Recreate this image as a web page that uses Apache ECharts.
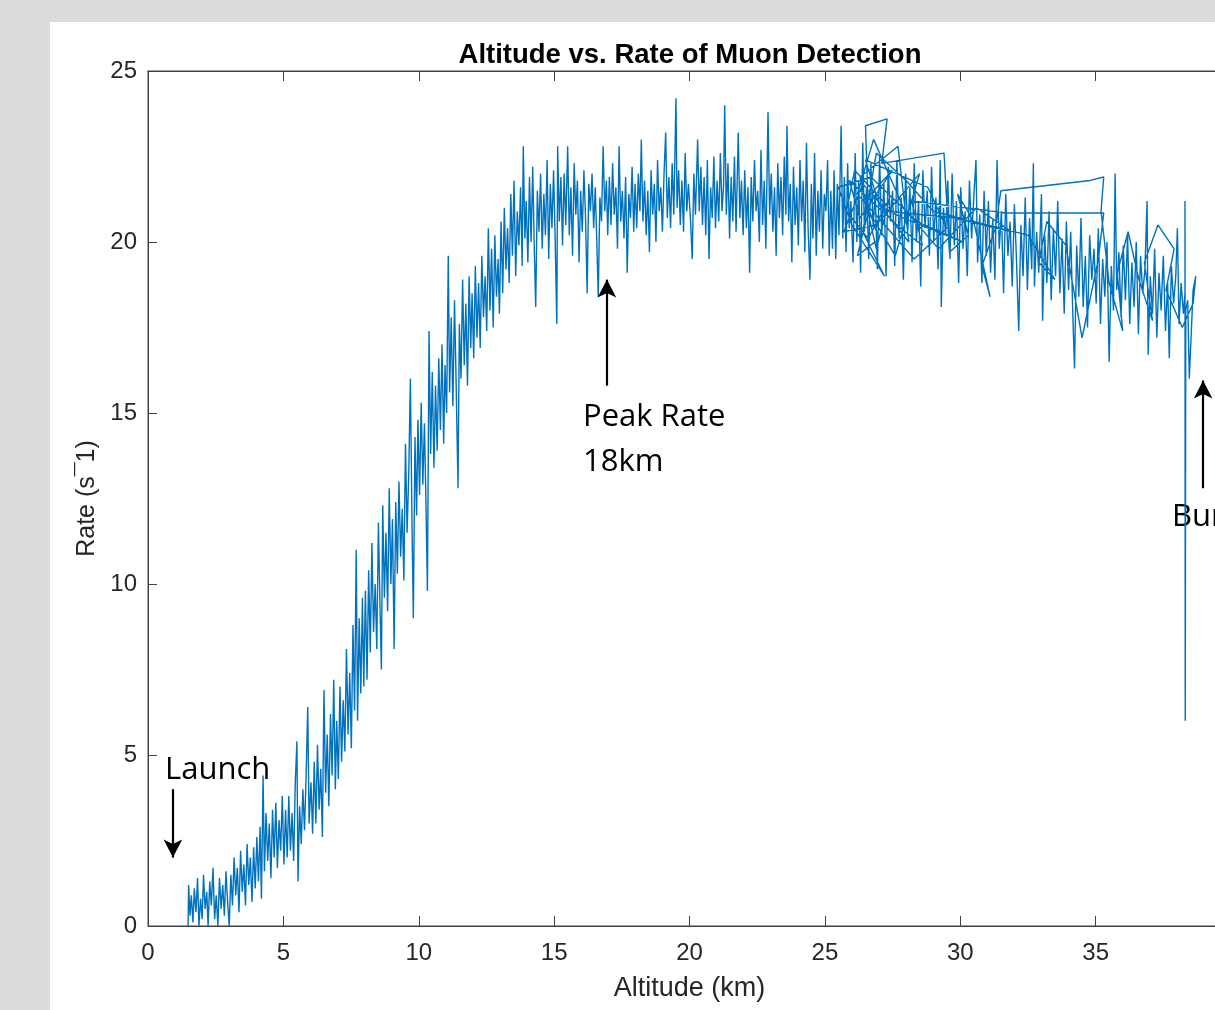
<!DOCTYPE html>
<html>
<head>
<meta charset="utf-8">
<script src="https://cdn.jsdelivr.net/npm/echarts@6/dist/echarts.min.js"></script>
<style>
html,body{margin:0;padding:0;width:1215px;height:1010px;overflow:hidden;background:#dcdcdc;}
#panel{position:absolute;left:50px;top:22px;width:1165px;height:988px;background:#ffffff;}
#chart{position:absolute;left:0;top:0;width:1260px;height:1010px;}
</style>
</head>
<body>
<div id="panel"></div>
<div id="chart"></div>
<script>
// ---- Data (altitude km, rate s^-1) ----
const xTicks = [0, 5, 10, 15, 20, 25, 30, 35, 40];
const yTicks = [0, 5, 10, 15, 20, 25];

const ascentLow = [
[1.48,0.0],[1.50,1.2],[1.55,0.3],[1.60,0.9],[1.66,0.1],[1.71,1.1],[1.77,0.4],[1.83,1.4],[1.88,0.0],[1.94,0.8],[2.00,0.2],
[2.05,1.5],[2.11,0.5],[2.17,1.0],[2.22,0.0],[2.28,1.3],[2.34,0.6],[2.40,1.7],[2.46,0.2],[2.52,0.9],[2.58,0.0],[2.64,1.4],
[2.70,0.5],[2.76,1.2],[2.82,0.3],[2.88,1.6],[2.94,0.7],[3.00,0.0],
[3.06,1.5],[3.12,0.6],[3.18,2.0],[3.24,0.9],[3.30,1.7],[3.36,0.4],[3.42,2.2],[3.48,1.0],[3.54,1.8],[3.60,0.6],[3.66,2.4],[3.72,1.2],[3.78,2.0],[3.84,0.7],[3.90,2.3],[3.96,1.1],
[4.02,2.6],[4.08,1.3],[4.14,2.9],[4.19,0.8],[4.25,4.4],[4.30,1.6],[4.36,3.3],[4.42,1.9],[4.48,3.0],[4.54,1.4],[4.60,3.4],[4.66,2.0],[4.72,3.6],[4.78,1.7],[4.84,3.1],[4.90,2.2],[4.96,3.8],
[5.02,1.8],[5.08,3.4],[5.14,2.0],[5.20,3.8],[5.26,2.2],[5.32,3.3],[5.38,1.9],[5.44,4.2],[5.50,5.4],[5.54,1.3],[5.60,3.5],[5.66,2.4],[5.72,4.0],[5.78,2.8],[5.84,4.4],[5.90,6.4],[5.95,3.0],
[6.02,4.2],[6.08,2.7],[6.14,4.8],[6.20,3.0],[6.26,5.3],[6.32,3.4],[6.38,4.6],[6.44,2.6],[6.50,6.9],[6.56,3.9],[6.62,5.6],[6.68,3.5],[6.74,6.2],[6.80,4.4],[6.86,7.2],[6.92,4.0],[6.97,6.0],
[7.03,4.3],[7.09,7.0],[7.15,4.8],[7.21,6.6],[7.27,5.1],[7.33,8.1],[7.39,5.6],[7.45,7.4],[7.51,5.2],[7.57,8.8],[7.63,6.3],[7.69,11.0],[7.74,6.0],[7.80,9.0],[7.86,6.8],[7.92,9.6],[7.97,7.0],
[8.03,9.8],[8.09,7.2],[8.15,10.4],[8.21,8.0],[8.27,11.2],[8.33,8.6],[8.39,10.0],[8.45,8.1],[8.51,11.8],[8.57,9.3],[8.62,7.5],[8.67,12.3],[8.73,9.6],[8.79,11.5],[8.85,9.2],[8.91,12.8],[8.97,10.0],
[9.03,11.9],[9.09,8.1],[9.15,12.4],[9.21,10.3],[9.27,13.0],[9.33,10.8],[9.39,12.2],[9.45,10.1],[9.51,14.1],[9.57,11.5],[9.63,13.2],[9.69,16.0],[9.75,11.8],[9.80,9.0],[9.86,14.3],[9.92,12.0],[9.97,14.8],
[10.03,12.6],[10.09,15.3],[10.15,12.9],[10.21,14.7],[10.27,12.2],[10.32,9.8],[10.38,17.4],[10.44,13.8],[10.50,16.2],[10.56,13.4],[10.62,15.8],[10.68,13.9],[10.74,16.6],[10.80,14.5],[10.86,17.0],[10.92,14.1],[10.97,16.4],
[11.03,15.0],[11.09,19.6],[11.14,15.6],[11.20,17.8],[11.26,15.2],[11.32,18.3],[11.38,15.9],[11.45,12.8],[11.50,17.6],[11.56,16.0],[11.62,18.9],[11.68,16.4],[11.74,18.2],[11.80,15.8],[11.86,19.0],[11.92,16.9],[11.97,18.5],
[12.03,16.6],[12.09,19.3],[12.15,17.2],[12.21,18.8],[12.27,16.9],[12.33,19.6],[12.39,17.8],[12.45,19.0],[12.51,17.4],[12.57,20.4],[12.63,18.0],[12.69,19.8],[12.75,17.5],[12.81,20.2],[12.87,18.4],[12.93,19.5],[12.98,17.9]
];

const ascentPlateau = [
[13.04,20.6],[13.10,18.5],[13.16,21.0],[13.22,19.2],[13.28,20.4],[13.34,18.8],[13.40,21.4],[13.46,19.6],[13.52,21.8],[13.58,19.0],[13.64,20.9],[13.70,19.9],[13.76,21.6],[13.82,19.3],[13.86,22.8],[13.92,20.1],[13.97,21.2],
[14.03,19.4],[14.09,21.9],[14.15,20.0],[14.21,22.2],[14.27,19.7],[14.32,18.1],[14.38,21.5],[14.44,20.3],[14.50,22.0],[14.56,19.8],[14.62,21.4],[14.68,20.2],[14.74,22.4],[14.80,19.5],[14.86,21.7],[14.92,20.4],[14.98,22.1],
[15.04,20.0],[15.10,17.6],[15.13,22.8],[15.19,20.6],[15.25,21.9],[15.31,19.9],[15.37,22.0],[15.43,20.5],[15.50,22.8],[15.56,20.2],[15.62,21.6],[15.68,19.6],[15.74,22.3],[15.80,20.8],[15.86,21.8],[15.92,19.4],[15.98,21.5],
[16.04,20.3],[16.10,22.1],[16.16,20.7],[16.22,18.5],[16.28,21.7],[16.34,20.9],[16.40,22.0],[16.46,20.4],[16.52,21.6],[16.58,19.9],[16.63,18.4],[16.69,21.3],[16.75,20.6],[16.81,22.8],[16.87,20.9],[16.93,21.8],[16.98,20.2],
[17.04,21.9],[17.10,20.5],[17.16,22.3],[17.22,20.8],[17.28,21.6],[17.34,19.8],[17.40,22.8],[17.46,20.6],[17.52,21.5],[17.58,20.1],[17.64,21.9],[17.70,19.1],[17.76,21.4],[17.82,20.7],[17.88,22.2],[17.94,20.3],[17.99,21.7],
[18.05,20.4],[18.11,22.0],[18.17,20.9],[18.22,23.0],[18.28,20.6],[18.34,21.8],[18.40,20.2],[18.46,21.5],[18.52,19.7],[18.58,22.1],[18.64,20.8],[18.70,21.7],[18.76,20.0],[18.82,22.4],[18.88,20.9],[18.94,21.6],[19.00,20.3],
[19.06,22.0],[19.12,23.2],[19.18,20.7],[19.24,21.9],[19.30,20.4],[19.36,22.3],[19.42,20.8],[19.50,24.2],[19.54,21.0],[19.60,22.1],[19.66,20.5],[19.72,21.8],[19.78,20.3],[19.84,22.6],[19.90,20.9],[19.96,21.7],
[20.04,20.6],[20.10,19.5],[20.16,22.0],[20.22,20.8],[20.30,23.0],[20.36,20.9],[20.42,22.2],[20.48,20.5],[20.54,21.9],[20.60,20.2],[20.66,22.4],[20.72,19.5],[20.78,21.6],[20.84,20.7],[20.90,22.5],[20.96,20.4],
[21.02,21.8],[21.08,20.6],[21.14,22.6],[21.20,20.9],[21.26,21.7],[21.30,24.0],[21.36,20.8],[21.42,22.3],[21.48,20.1],[21.54,21.9],[21.60,20.6],[21.66,22.5],[21.72,20.3],[21.80,23.2],[21.86,20.7],[21.92,21.8],[21.98,20.2],
[22.04,22.1],[22.10,20.4],[22.16,21.6],[22.22,19.1],[22.28,21.9],[22.34,20.6],[22.40,22.4],[22.46,20.9],[22.52,21.5],[22.58,20.0],[22.64,22.7],[22.70,20.5],[22.76,21.8],[22.82,19.8],[22.90,23.8],[22.96,20.8],
[23.02,22.0],[23.08,20.3],[23.14,21.6],[23.20,19.6],[23.26,22.3],[23.32,20.7],[23.38,21.9],[23.44,20.2],[23.50,22.5],[23.56,20.8],[23.60,23.4],[23.66,20.6],[23.72,21.7],[23.78,19.4],[23.84,22.2],[23.90,20.5],[23.96,21.6],
[24.02,19.9],[24.08,22.4],[24.14,20.6],[24.20,21.8],[24.26,19.7],[24.32,22.9],[24.38,20.4],[24.45,18.9],[24.50,21.7],[24.56,20.1],[24.62,22.6],[24.68,19.6],[24.74,21.5],[24.80,20.3],[24.86,22.1],[24.92,19.8],[24.98,21.4]
];

const ascentHigh = [
[25.04,20.9],[25.10,22.4],[25.16,19.6],[25.22,21.5],[25.28,19.8],[25.34,22.1],[25.40,19.5],[25.46,21.7],[25.52,20.2],[25.60,23.4],[25.66,20.1],[25.72,21.9],[25.78,19.7],[25.84,22.3],[25.90,20.4],[25.96,21.2],
[26.04,19.4],[26.12,22.6],[26.18,20.0],[26.25,21.8],[26.32,19.1],[26.40,22.9],[26.46,20.3],[26.54,21.6],[26.62,19.5],[26.70,22.3],[26.78,20.5],[26.86,21.4],[26.94,19.2],
[27.02,22.5],[27.10,20.2],[27.18,21.7],[27.26,19.0],[27.34,22.2],[27.42,20.6],[27.50,21.5],[27.58,19.3],[27.66,22.4],[27.74,20.1],[27.82,21.3],[27.90,18.9],[27.98,22.0],
[28.06,20.3],[28.14,21.6],[28.22,19.4],[28.30,22.3],[28.38,20.0],[28.46,21.2],[28.54,18.7],[28.62,22.1],[28.70,20.4],[28.78,21.5],[28.86,19.6],[28.94,22.2],
[29.02,20.0],[29.10,21.3],[29.18,19.2],[29.26,22.4],[29.30,18.1],[29.38,21.0],[29.46,20.2],[29.54,21.8],[29.62,19.5],[29.70,22.0],[29.78,19.9],[29.86,21.2],[29.94,18.8],
[30.02,21.6],[30.10,19.8],[30.18,20.9],[30.26,19.0],[30.34,21.8],[30.42,20.1],[30.50,21.3],[30.58,22.4],[30.64,19.4],[30.72,20.8],[30.80,18.8],[30.88,21.5],[30.96,19.6],
[31.04,21.2],[31.12,19.1],[31.20,20.7],[31.28,18.9],[31.36,22.4],[31.44,19.8],[31.52,20.9],[31.60,18.5],[31.68,21.4],[31.76,19.6],[31.84,20.6],[31.92,18.7],
[32.00,21.1],[32.08,19.4],[32.16,17.4],[32.24,20.5],[32.32,19.0],[32.40,21.3],[32.48,18.6],[32.56,20.7],[32.64,19.2],[32.70,22.3],[32.74,18.7],[32.82,20.3],[32.90,19.1],[33.00,21.4],[33.04,17.7],
[33.12,20.2],[33.20,18.8],[33.28,20.9],[33.36,18.3],[33.44,20.4],[33.52,19.0],[33.60,21.2],[33.68,18.5],[33.76,20.1],[33.84,17.9],[33.92,20.6],
[34.00,18.6],[34.08,20.3],[34.16,17.8],[34.22,16.3],[34.30,19.9],[34.38,18.4],[34.46,20.7],[34.54,18.1],[34.62,19.6],[34.70,17.5],[34.78,20.2],[34.86,18.9],[34.94,19.8],
[35.02,18.2],[35.10,20.4],[35.18,17.6],[35.26,19.5],[35.34,18.4],[35.42,20.0],[35.50,16.5],[35.58,19.3],[35.66,18.0],[35.72,22.0],[35.78,18.6],[35.86,19.7],[35.94,17.8],
[36.02,19.9],[36.10,18.3],[36.18,20.2],[36.26,17.6],[36.34,19.4],[36.42,18.1],[36.50,20.0],[36.58,17.3],[36.66,19.6],[36.74,18.5],[36.82,19.2],[36.90,21.2],[36.94,16.7],
[37.02,19.0],[37.10,17.9],[37.18,19.8],[37.26,17.2],[37.34,19.1],[37.42,18.0],[37.50,19.6],[37.58,17.4],[37.66,18.8],[37.72,16.6],[37.80,19.3],[37.88,18.2],[37.96,19.0],
[38.02,20.4],[38.08,17.6],[38.16,18.8],[38.24,17.9],[38.30,18.5],[38.30,21.2],[38.31,6.0],[38.33,18.0],[38.40,18.3],[38.46,16.0],[38.60,18.6],[38.70,19.0]
];

const descentLoops = [
[38.6,18.2],[38.2,17.5],[37.6,18.6],[37.9,19.8],[37.3,20.5],[36.8,19.4],[37.1,17.7],[36.6,18.9],[36.2,20.3],[35.8,19.1],
[36.0,17.4],[35.5,18.8],[35.2,20.9],[35.3,21.9],[34.8,21.8],[31.5,21.5],[31.3,20.4],[30.8,19.3],[31.1,18.4],[30.5,20.6],
[29.9,21.4],[30.3,20.2],[29.6,19.7],[29.4,22.6],[27.1,22.3],[27.3,23.6],[26.5,23.4],[26.6,21.0],[27.0,20.1],[26.2,19.6],
[26.8,21.5],[27.5,22.1],[26.3,20.7],[25.9,21.8],[27.8,20.4],[28.6,19.9],[28.2,21.2],[31.7,20.85],[35.3,20.85],[35.1,19.5],
[34.5,17.2],[33.9,19.9],[33.2,20.6],[32.9,19.4],[33.5,18.9],[32.5,20.2],[29.0,20.9],[28.0,21.8],[26.9,22.6],[26.4,20.3],
[27.2,19.0],[26.0,20.5],[25.5,21.6],[26.7,21.9],[28.4,20.6],[30.1,20.0],[27.6,20.8],[26.1,22.1],[25.8,20.9],
[26.6,20.1],[27.4,21.3],[26.9,19.8],[26.3,21.9],[27.7,22.8],[28.1,20.0],[27.0,21.1],[26.5,22.4],[28.8,21.6],[29.5,20.4],
[28.3,19.5],[27.1,20.6],[26.2,21.4],[26.8,23.0],[27.9,21.0],[29.2,19.8],[30.6,21.0],[31.9,20.3],[29.8,20.7],[27.3,20.9],
[26.4,21.7],[25.7,20.3],[26.9,20.5],[28.5,22.0],[27.6,19.6],[26.7,20.8]
];

// Annotation arrows (data coordinates: from, to)
const launchArrow = [[0.92, 4.0], [0.92, 2.0]];
const peakArrow = [[16.95, 15.8], [16.95, 18.9]];
const burstArrow = [[38.97, 12.8], [38.97, 15.95]];

const allPoints = ascentLow.concat(ascentPlateau, ascentHigh, descentLoops);

const chart = echarts.init(document.getElementById('chart'), null, {renderer: 'canvas'});
const axisColor = '#404040';
const textColor = '#262626';
const fontFam = '"Liberation Sans", Arial, Helvetica, sans-serif';
const annFont = '"Open Sans", "Noto Sans", sans-serif';

function arrow(a) {
  return [{coord: a[0]}, {coord: a[1]}];
}

chart.setOption({
  animation: false,
  backgroundColor: 'transparent',
  title: {
    text: 'Altitude vs. Rate of Muon Detection',
    left: 685,
    textAlign: 'center',
    top: 36,
    textStyle: {fontFamily: fontFam, fontSize: 27.5, fontWeight: 'bold', color: '#000'}
  },
  grid: {
    left: 148, top: 71, width: 1083, height: 855,
    show: true, borderColor: axisColor, borderWidth: 1, backgroundColor: 'transparent'
  },
  xAxis: [{
    type: 'value', min: 0, max: 40, interval: 5, position: 'bottom',
    name: 'Altitude (km)', nameLocation: 'middle', nameGap: 49,
    nameTextStyle: {fontFamily: fontFam, fontSize: 27, color: textColor},
    axisLine: {show: true, lineStyle: {color: axisColor, width: 1}},
    axisTick: {show: true, inside: true, length: 10, lineStyle: {color: axisColor}},
    axisLabel: {fontFamily: fontFam, fontSize: 24, color: textColor, margin: 15,
      formatter: v => xTicks.indexOf(v) >= 0 ? String(v) : ''},
    splitLine: {show: false}
  }, {
    type: 'value', min: 0, max: 40, interval: 5, position: 'top',
    axisLine: {show: true, lineStyle: {color: axisColor, width: 1}},
    axisTick: {show: true, inside: true, length: 10, lineStyle: {color: axisColor}},
    axisLabel: {show: false}, splitLine: {show: false}
  }],
  yAxis: [{
    type: 'value', min: 0, max: 25, interval: 5, position: 'left',
    name: 'Rate (s\u00AF1)', nameLocation: 'middle', nameGap: 47, nameRotate: 90,
    nameTextStyle: {fontFamily: fontFam, fontSize: 25, color: textColor},
    axisLine: {show: true, lineStyle: {color: axisColor, width: 1}},
    axisTick: {show: true, inside: true, length: 9, lineStyle: {color: axisColor}},
    axisLabel: {fontFamily: fontFam, fontSize: 24, color: textColor, margin: 11,
      formatter: v => yTicks.indexOf(v) >= 0 ? String(v) : ''},
    splitLine: {show: false}
  }],
  series: [{
    type: 'line',
    xAxisIndex: 0, yAxisIndex: 0,
    data: allPoints,
    showSymbol: false,
    symbol: 'none',
    sampling: null,
    lineStyle: {color: '#0072BD', width: 1.4},
    clip: true,
    markLine: {
      silent: true,
      symbol: ['none', 'arrow'],
      symbolSize: [14, 18],
      label: {show: false},
      lineStyle: {color: '#000', width: 2.2, type: 'solid'},
      emphasis: {disabled: true},
      data: [arrow(launchArrow), arrow(peakArrow), arrow(burstArrow)]
    }
  }],
  graphic: [
    {type: 'text', left: 165, top: 755, style: {text: 'Launch', font: '31px ' + annFont, fill: '#000'}},
    {type: 'text', left: 583, top: 395, style: {text: 'Peak Rate\n18km', font: '31px ' + annFont, fill: '#000', lineHeight: 45}},
    {type: 'text', left: 1172, top: 502, style: {text: 'Burst', font: '31px ' + annFont, fill: '#000'}}
  ]
});
</script>
</body>
</html>
